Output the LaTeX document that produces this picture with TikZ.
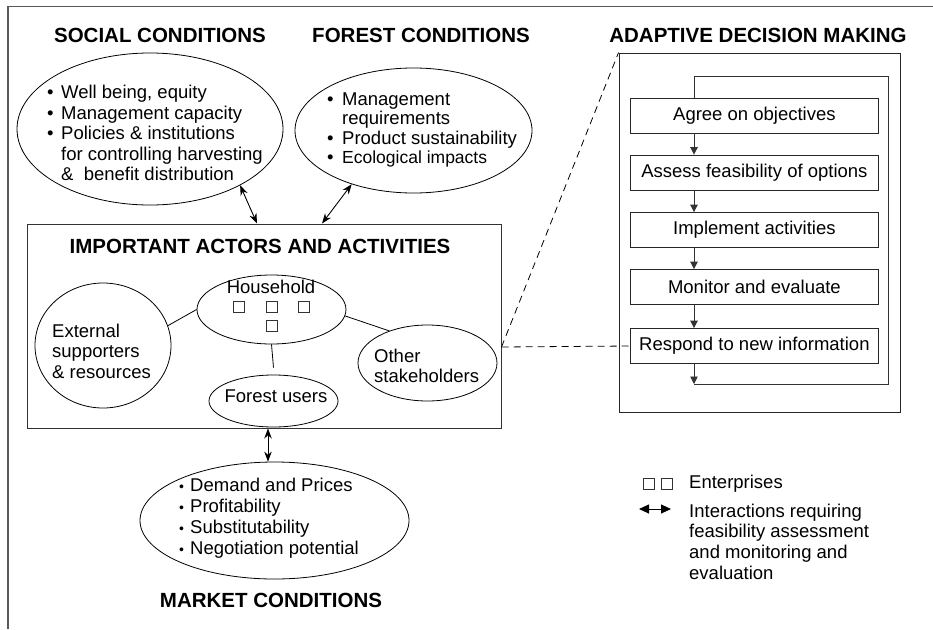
\documentclass[tikz,border=0pt]{standalone}
\usepackage{fontspec}
\setmainfont{Liberation Sans}
\usetikzlibrary{shapes.geometric,arrows.meta,calc}
\newcommand\mybul{\makebox[14pt][l]{•}}
\newcommand\mybulf{\makebox[15pt][l]{•}}
\newcommand\mysmbul{\makebox[11pt][l]{\fontsize{14}{14}\selectfont •}}
\begin{document}
\begin{tikzpicture}[x=1pt,y=-1pt,
  title/.style={font=\bfseries\fontsize{20.5}{24}\selectfont, inner sep=0pt, anchor=base},
  body/.style={font=\fontsize{18.5}{20.5}\selectfont, inner sep=0pt},
  ell/.style={draw, ellipse, inner sep=0pt, line width=0.8pt},
  fbox/.style={draw=black!85, line width=0.8pt, rectangle, minimum width=248pt, minimum height=35pt, inner sep=0pt, font=\fontsize{18.5}{20.5}\selectfont},
  dbl/.style={{Stealth[length=10pt,width=7.5pt]}-{Stealth[length=10pt,width=7.5pt]}, line width=0.9pt},
  ldbl/.style={{Triangle[length=10pt,width=9pt]}-{Triangle[length=10pt,width=9pt]}, line width=0.9pt},
  flow/.style={-{Triangle[length=7.5pt,width=7.5pt]}, line width=0.8pt, draw=black!80},
  loopline/.style={line width=0.8pt, draw=black!80},
  sq/.style={draw=black!80, line width=0.6pt, minimum size=11pt, inner sep=0pt},
  conn/.style={line width=0.8pt},
  dsh/.style={dash pattern=on 7pt off 5pt, line width=0.8pt}
]
\useasboundingbox (0,0) rectangle (933,629);
\draw[draw=black!65, line width=1.2pt] (8,629) -- (8,6.5) -- (933,6.5);

% titles
\node[title] (tsoc) at (160,42) {SOCIAL CONDITIONS};
\node[title] (tfor) at (421,42) {FOREST CONDITIONS};
\node[title] (tadm) at (758,42) {ADAPTIVE DECISION MAKING};
\node[title] (tbox) at (260,253) {IMPORTANT ACTORS AND ACTIVITIES};
\node[title] (tmkt) at (271,607) {MARKET CONDITIONS};

% big shapes
\node[ell, minimum width=266pt, minimum height=152pt] (soc) at (150,129) {};
\node[ell, minimum width=237pt, minimum height=125pt] (for) at (413.5,130.5) {};
\node[draw=black!80, line width=1pt, minimum width=474pt, minimum height=204pt, inner sep=0pt] (box) at (264,326) {};
\node[ell, minimum width=149pt, minimum height=69pt] (hh) at (271.5,309.5) {};
\node[ell, minimum width=136pt, minimum height=125pt] (ext) at (103,345.5) {};
\node[ell, minimum width=129pt, minimum height=52pt] (fu) at (273.5,401) {};
\node[ell, minimum width=139pt, minimum height=76pt] (oth) at (427.5,363) {};
\node[ell, minimum width=269pt, minimum height=117pt] (mkt) at (274.5,520.5) {};
\node[draw=black!85, line width=0.9pt, minimum width=281pt, minimum height=359pt, inner sep=0pt] (adm) at (759.5,232.5) {};

% ellipse texts
\node[body, anchor=base west] (lsoc) at (47,98.5) {\begin{tabular}[t]{@{}l@{}}
\mybul Well being, equity\\
\mybul Management capacity\\
\mybul Policies \& institutions\\
\hspace*{14pt}for controlling harvesting\\
\hspace*{14pt}\&\ \ benefit distribution
\end{tabular}};
\node[body, font=\fontsize{18.5}{19.5}\selectfont, anchor=base west] (lfor) at (327,105) {\begin{tabular}[t]{@{}l@{}}
\mybulf Management\\
\hspace*{15pt}requirements\\
\mybulf Product sustainability\\
\mybulf {\fontsize{17.5}{19.5}\selectfont Ecological impacts}
\end{tabular}};
\node[body, font=\fontsize{18.5}{21}\selectfont, anchor=base west] (lmkt) at (179,491) {\begin{tabular}[t]{@{}l@{}}
\mysmbul Demand and Prices\\
\mysmbul Profitability\\
\mysmbul Substitutability\\
\mysmbul Negotiation potential
\end{tabular}};

\node[body, anchor=base] (thh) at (271,293) {Household};
\node[body, anchor=base west] (text) at (52,337) {\begin{tabular}[t]{@{}l@{}}External\\supporters\\\& resources\end{tabular}};
\node[body, anchor=base] (tfu) at (276,402) {Forest users};
\node[body, font=\fontsize{18.5}{20}\selectfont, anchor=base west] (toth) at (374,362) {\begin{tabular}[t]{@{}l@{}}Other\\stakeholders\end{tabular}};

% enterprise squares
\node[sq] (q1) at (239,307) {};
\node[sq] (q2) at (272,307) {};
\node[sq] (q3) at (304,307) {};
\node[sq] (q4) at (272,326) {};

% actor links
\draw[conn] (ext.17) -- (hh.180);
\draw[conn] (hh.-5) -- (oth.140);
\draw[conn] (hh.south) -- ([yshift=7pt]fu.north);

% interaction arrows
\draw[dbl] (soc.-32) -- ([xshift=-7pt]box.north);
\draw[dbl] (for.221) -- ([xshift=58pt]box.north);
\draw[dbl] ([xshift=4pt]box.south) -- ([xshift=4pt]box.south |- mkt.north);

% adaptive decision making
\node[fbox, anchor=west] (b1) at (630,115.5) {Agree on objectives};
\node[fbox, anchor=west] (b2) at (630,172.5) {Assess feasibility of options};
\node[fbox, anchor=west] (b3) at (630,230) {Implement activities};
\node[fbox, anchor=west] (b4) at (630,287) {Monitor and evaluate};
\node[fbox, anchor=west] (b5) at (630,346) {Respond to new information};
\coordinate (ax) at (694,0);
\draw[flow] (b1.south -| ax) -- (b2.north -| ax);
\draw[flow] (b2.south -| ax) -- (b3.north -| ax);
\draw[flow] (b3.south -| ax) -- (b4.north -| ax);
\draw[flow] (b4.south -| ax) -- (b5.north -| ax);
\coordinate (lb) at (694,384);
\coordinate (lr) at (888,384);
\coordinate (tr) at (888,76);
\coordinate (tl) at (694,76);
\draw[flow] (b5.south -| ax) -- (lb);
\draw[loopline] (lb) -- (lr) -- (tr) -- (tl) -- (b1.north -| ax);

% dashed zoom lines
\coordinate (dj) at ([yshift=-21pt]box.east);
\draw[dsh] (dj) -- (b5.west);
\draw[dsh] (dj) -- (adm.north west);

% legend
\node[sq] (lq1) at (648.5,483.5) {};
\node[sq] (lq2) at (667,483.5) {};
\node[body, anchor=base west] (lent) at (689,488) {Enterprises};
\coordinate (la1) at (639,509);
\coordinate (la2) at (671,509);
\draw[ldbl] (la1) -- (la2);
\node[body, font=\fontsize{18.5}{20.8}\selectfont, anchor=base west] (lint) at (689,517) {\begin{tabular}[t]{@{}l@{}}Interactions requiring\\feasibility assessment\\and monitoring and\\evaluation\end{tabular}};
\end{tikzpicture}
\end{document}
